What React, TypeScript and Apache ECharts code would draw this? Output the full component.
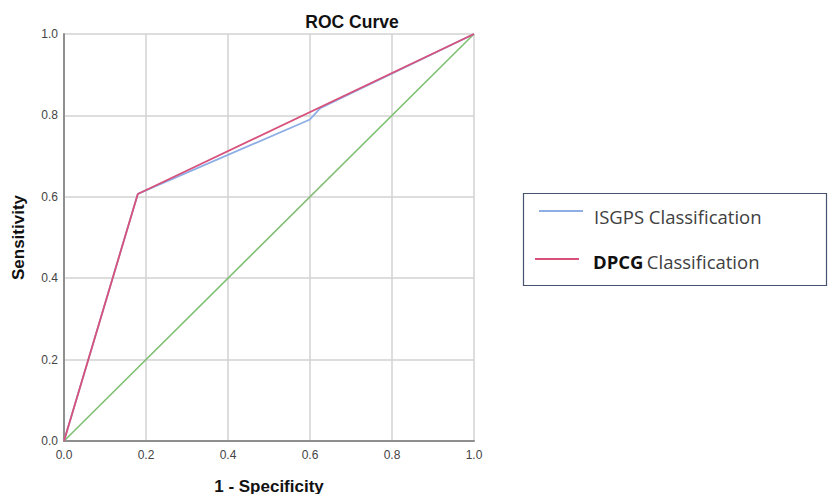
import React, { useEffect, useRef } from "react";
import * as echarts from "echarts";

const isgpsX = [0, 0.18, 0.6, 0.625, 1];
const isgpsY = [0, 0.607, 0.79, 0.818, 1];
const dpcgX = [0, 0.18, 1];
const dpcgY = [0, 0.607, 1];
const refX = [0, 1];
const refY = [0, 1];

const pairs = (xs: number[], ys: number[]) => xs.map((x, i) => [x, ys[i]]);

export default function App() {
  const ref = useRef<HTMLDivElement>(null);
  useEffect(() => {
    const chart = echarts.init(ref.current!, undefined, { renderer: "svg" });
    const axisCommon = {
      type: "value" as const,
      min: 0,
      max: 1,
      interval: 0.2,
      axisLine: { show: true, lineStyle: { color: "#8f8f8f", width: 2 } },
      axisTick: { show: false },
      splitLine: { show: true, lineStyle: { color: "#d2d2d2", width: 1.5 } },
      axisLabel: {
        color: "#444",
        fontSize: 12,
        fontFamily: "Liberation Sans, Arial",
        formatter: (v: number) => v.toFixed(1),
      },
      nameTextStyle: {
        color: "#111",
        fontSize: 17,
        fontWeight: "bold" as const,
        fontFamily: "Liberation Sans, Arial",
      },
    };
    chart.setOption({
      animation: false,
      backgroundColor: "#fff",
      title: {
        text: "ROC Curve",
        left: 347,
        top: 8,
        textAlign: "center",
        textStyle: {
          color: "#111",
          fontSize: 17.5,
          fontWeight: "bold",
          fontFamily: "Liberation Sans, Arial",
        },
      },
      grid: {
        left: 64,
        top: 34,
        width: 410,
        height: 407,
        outerBoundsMode: "none",
        containLabel: false,
      },
      xAxis: {
        ...axisCommon,
        name: "1 - Specificity",
        nameLocation: "middle",
        nameGap: 37,
        axisLabel: { ...axisCommon.axisLabel, margin: 8 },
      },
      yAxis: {
        ...axisCommon,
        name: "Sensitivity",
        nameLocation: "middle",
        nameGap: 37,
        nameRotate: 90,
        axisLabel: { ...axisCommon.axisLabel, margin: 6 },
      },
      series: [
        {
          type: "line",
          name: "Reference",
          data: pairs(refX, refY),
          symbol: "none",
          lineStyle: { color: "#7fbf72", width: 1.6 },
        },
        {
          type: "line",
          name: "ISGPS Classification",
          data: pairs(isgpsX, isgpsY),
          symbol: "none",
          lineStyle: { color: "#8eaee6", width: 1.8 },
        },
        {
          type: "line",
          name: "DPCG Classification",
          data: pairs(dpcgX, dpcgY),
          symbol: "none",
          lineStyle: { color: "#d7517b", width: 1.8 },
        },
      ],
      graphic: [
        {
          type: "rect",
          shape: { x: 523.5, y: 193.5, width: 303, height: 92 },
          style: { fill: "#fff", stroke: "#475170", lineWidth: 1.2 },
        },
        {
          type: "line",
          shape: { x1: 539, y1: 211, x2: 583, y2: 211 },
          style: { stroke: "#8eaee6", lineWidth: 2 },
        },
        {
          type: "text",
          x: 594,
          y: 216,
          style: {
            text: "ISGPS Classification",
            fill: "#404040",
            font: "18.5px 'Open Sans', 'Noto Sans', sans-serif",
            verticalAlign: "middle",
          },
        },
        {
          type: "line",
          shape: { x1: 535, y1: 259, x2: 579, y2: 259 },
          style: { stroke: "#d7517b", lineWidth: 2 },
        },
        {
          type: "text",
          x: 593,
          y: 261,
          style: {
            text: "{b|DPCG} {n|Classification}",
            verticalAlign: "middle",
            rich: {
              b: {
                fill: "#111",
                font: "bold 18.5px 'Open Sans', 'Noto Sans', sans-serif",
              },
              n: {
                fill: "#404040",
                font: "18.5px 'Open Sans', 'Noto Sans', sans-serif",
              },
            },
          },
        },
      ],
    });
    return () => chart.dispose();
  }, []);
  return (
    <div
      ref={ref}
      style={{ position: "fixed", left: 0, top: 0, width: 829, height: 494 }}
    />
  );
}
